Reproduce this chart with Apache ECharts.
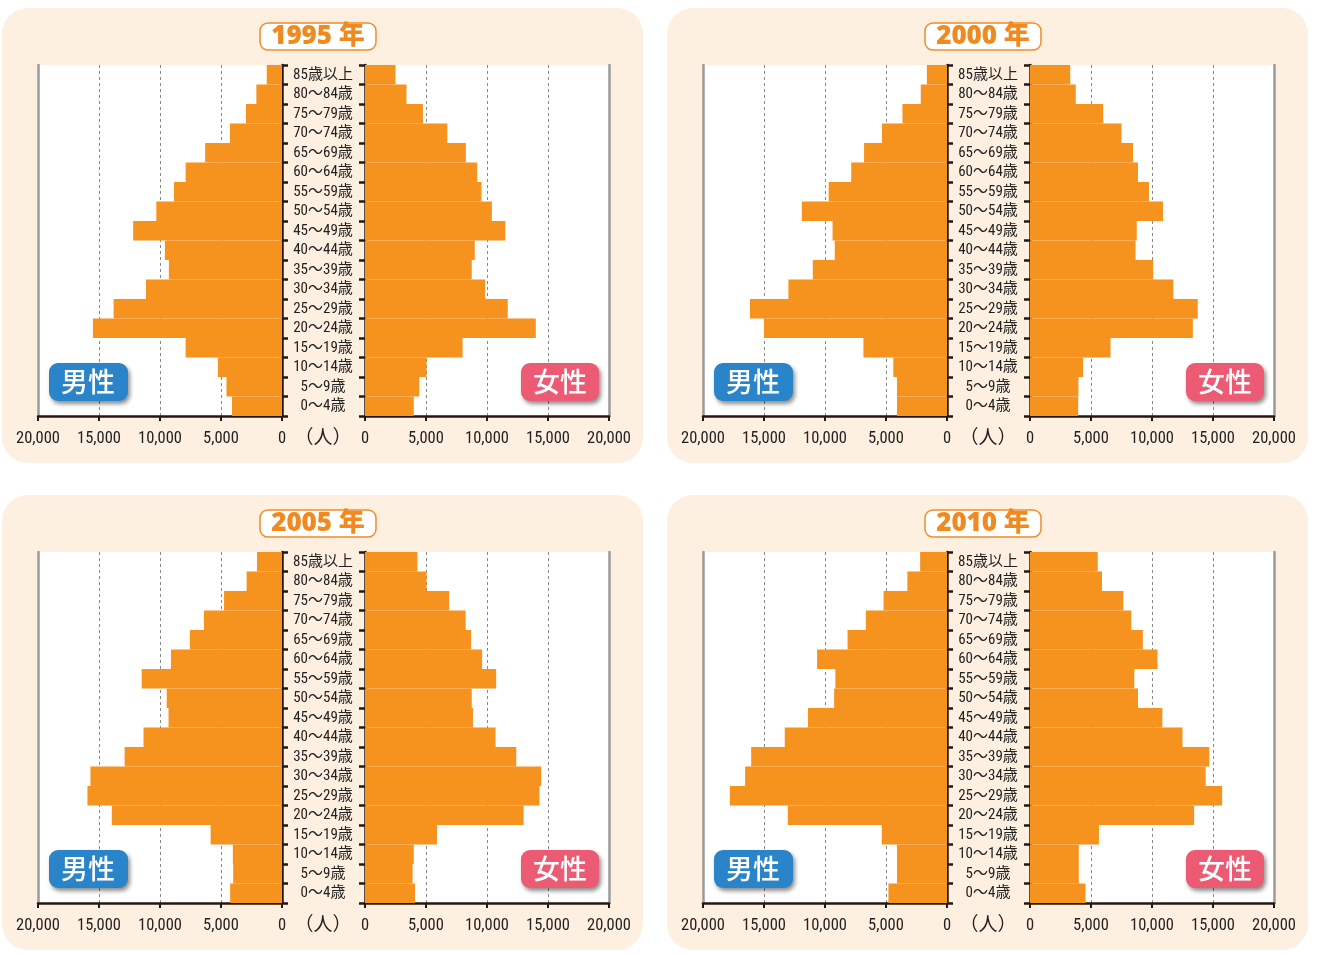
<!DOCTYPE html>
<html lang="ja">
<head>
<meta charset="UTF-8">
<title>人口ピラミッド</title>
<style>
  html, body { margin: 0; padding: 0; background: #fff; }
  #chart { width: 1319px; height: 955px; }
</style>
</head>
<body>
<div id="chart"></div>
<script src="https://cdn.jsdelivr.net/npm/echarts@6/dist/echarts.min.js"></script>
<script>
// 年齢区分（上から）
var ages = ['85歳以上', '80～84歳', '75～79歳', '70～74歳', '65～69歳', '60～64歳',
  '55～59歳', '50～54歳', '45～49歳', '40～44歳', '35～39歳', '30～34歳',
  '25～29歳', '20～24歳', '15～19歳', '10～14歳', '5～9歳', '0～4歳'];

var years = ['1995 年', '2000 年', '2005 年', '2010 年'];

// 男性（人）
var male1995 = [1250, 2100, 2950, 4270, 6300, 7900, 8850, 10300, 12200, 9600, 9270, 11150, 13800, 15500, 7900, 5250, 4550, 4100];
var male2000 = [1650, 2150, 3650, 5330, 6800, 7850, 9700, 11900, 9380, 9200, 11000, 13000, 16150, 15000, 6850, 4400, 4100, 4100];
var male2005 = [2050, 2900, 4750, 6400, 7550, 9100, 11500, 9450, 9300, 11350, 12900, 15700, 15950, 13950, 5850, 4030, 4000, 4250];
var male2010 = [2200, 3250, 5200, 6650, 8150, 10650, 9150, 9250, 11400, 13300, 16050, 16550, 17800, 13050, 5350, 4100, 4100, 4800];

// 女性（人）
var female1995 = [2500, 3400, 4750, 6750, 8270, 9200, 9550, 10400, 11500, 9000, 8750, 9850, 11700, 14000, 8000, 5050, 4450, 4000];
var female2000 = [3300, 3750, 6000, 7500, 8450, 8850, 9750, 10900, 8750, 8650, 10100, 11750, 13750, 13350, 6600, 4350, 3970, 3950];
var female2005 = [4300, 5050, 6900, 8250, 8700, 9600, 10750, 8750, 8850, 10700, 12400, 14450, 14300, 13000, 5900, 4000, 3900, 4100];
var female2010 = [5550, 5900, 7650, 8300, 9250, 10450, 8550, 8850, 10850, 12500, 14700, 14400, 15750, 13450, 5650, 4000, 4000, 4550];

var maleData = [male1995, male2000, male2005, male2010];
var femaleData = [female1995, female2000, female2005, female2010];

var numFont = "'Roboto Condensed', 'Liberation Sans Narrow', 'DejaVu Sans Condensed', Roboto, 'Noto Sans CJK JP', sans-serif";
var cjkFont = "'Noto Sans CJK JP', sans-serif";
var barColor = '#F6921E';

var myChart = echarts.init(document.getElementById('chart'));

var grids = [], xAxes = [], yAxes = [], series = [], graphics = [];

for (var i = 0; i < 4; i++) {
  var dx = (i % 2) * 665;
  var dy = Math.floor(i / 2) * 487;

  // 背景・タイトル・ラベル
  graphics.push({
    type: 'rect', z: -10,
    shape: { x: 2 + dx, y: 8 + dy, width: 641, height: 455, r: 26 },
    style: { fill: '#FDF0E0' }
  });
  graphics.push({
    type: 'rect', z: 50,
    shape: { x: 260 + dx, y: 23 + dy, width: 116, height: 27, r: 8 },
    style: { fill: '#fff', stroke: '#F28C28', lineWidth: 1.5 }
  });
  graphics.push({
    type: 'text', z: 51,
    x: 318 + dx, y: 37 + dy,
    style: { text: years[i], fill: '#F08A1E', font: "900 26px 'Noto Sans', 'Noto Sans CJK JP', sans-serif",
      align: 'center', verticalAlign: 'middle' }
  });
  graphics.push({
    type: 'text', z: 51,
    x: 323 + dx, y: 437 + dy,
    style: { text: '（人）', fill: '#222', font: '19px ' + cjkFont, align: 'center', verticalAlign: 'middle' }
  });
  graphics.push({
    type: 'rect', z: 50,
    shape: { x: 49 + dx, y: 363 + dy, width: 79, height: 38, r: 9 },
    style: { fill: '#2A84C9', shadowBlur: 4, shadowOffsetX: 2, shadowOffsetY: 3, shadowColor: 'rgba(0,0,0,0.45)' }
  });
  graphics.push({
    type: 'text', z: 51,
    x: 88 + dx, y: 382 + dy,
    style: { text: '男性', fill: '#fff', font: '500 27px ' + cjkFont, align: 'center', verticalAlign: 'middle' }
  });
  graphics.push({
    type: 'rect', z: 50,
    shape: { x: 521 + dx, y: 363 + dy, width: 78, height: 38, r: 9 },
    style: { fill: '#EC5A74', shadowBlur: 4, shadowOffsetX: 2, shadowOffsetY: 3, shadowColor: 'rgba(0,0,0,0.45)' }
  });
  graphics.push({
    type: 'text', z: 51,
    x: 560 + dx, y: 382 + dy,
    style: { text: '女性', fill: '#fff', font: '500 27px ' + cjkFont, align: 'center', verticalAlign: 'middle' }
  });

  // 男性・女性のグリッド
  grids.push({ left: 38 + dx, top: 65 + dy, width: 244, height: 351, show: true, backgroundColor: '#fff', borderWidth: 0 });
  grids.push({ left: 365 + dx, top: 65 + dy, width: 244, height: 351, show: true, backgroundColor: '#fff', borderWidth: 0 });

  for (var s = 0; s < 2; s++) {
    var g = i * 2 + s;
    xAxes.push({
      type: 'value', gridIndex: g, min: 0, max: 20000, interval: 5000,
      inverse: s === 0,
      axisLine: { show: true, lineStyle: { color: '#231815', width: 2.5 } },
      axisTick: { show: true, length: 5, lineStyle: { color: '#231815', width: 2 } },
      axisLabel: {
        margin: 15, fontSize: 16.5, color: '#222', fontFamily: numFont,
        formatter: function (v) { return v.toLocaleString('en-US'); }
      },
      splitLine: { show: true, lineStyle: { color: '#888', type: [3, 3], width: 1 } }
    });
    // 中央の黒い軸（女性側に年齢ラベル）
    yAxes.push({
      type: 'category', gridIndex: g, data: ages, inverse: true,
      position: s === 0 ? 'right' : 'left',
      axisLine: { show: true, lineStyle: { color: '#231815', width: 2.5 } },
      axisTick: { show: true, length: 6, lineStyle: { color: '#231815', width: 2.5 } },
      axisLabel: s === 1 ? {
        show: true, interval: 0, align: 'center', margin: 42, fontSize: 15, color: '#222', fontFamily: numFont,
        padding: [4, 0, 0, 0]
      } : { show: false },
      splitLine: { show: false }
    });
    // 外側の灰色の線
    yAxes.push({
      type: 'category', gridIndex: g, data: ages, inverse: true,
      position: s === 0 ? 'left' : 'right',
      axisLine: { show: true, lineStyle: { color: '#9a9a9a', width: 2.5 } },
      axisTick: { show: false }, axisLabel: { show: false }, splitLine: { show: false }
    });
    series.push({
      type: 'bar', silent: true,
      xAxisIndex: g, yAxisIndex: g * 2,
      data: s === 0 ? maleData[i] : femaleData[i],
      barCategoryGap: '0%',
      itemStyle: { color: barColor }
    });
  }
}

var option = {
  animation: false,
  backgroundColor: '#fff',
  grid: grids,
  xAxis: xAxes,
  yAxis: yAxes,
  series: series,
  graphic: graphics
};
myChart.setOption(option);
</script>
</body>
</html>
